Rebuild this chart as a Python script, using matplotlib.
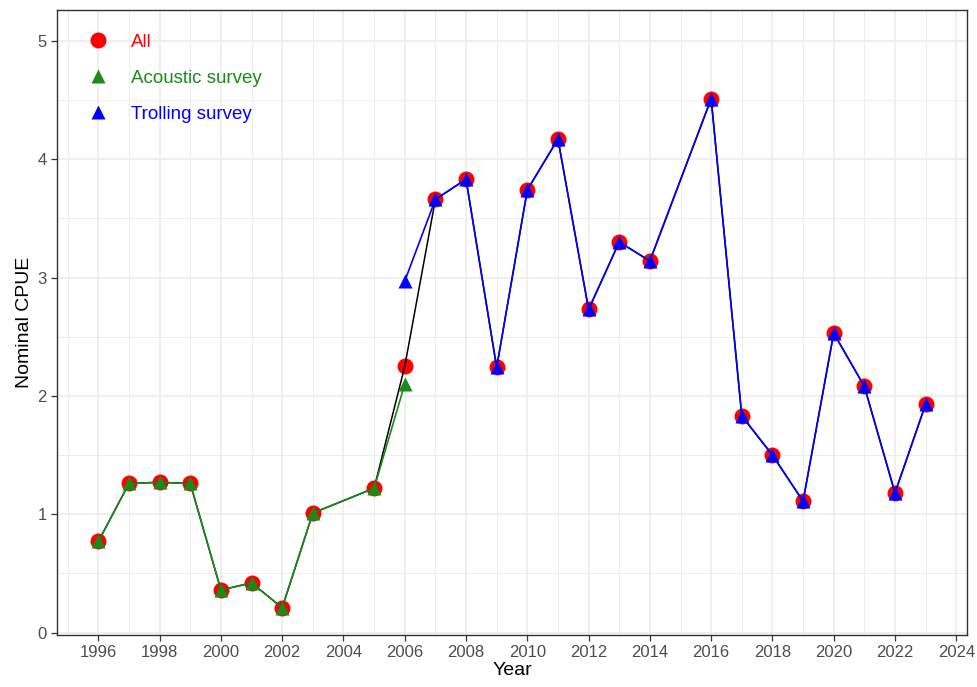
import matplotlib
matplotlib.use("Agg")
import matplotlib.pyplot as plt
from matplotlib.lines import Line2D

plt.rcParams['font.family'] = ['Liberation Sans', 'DejaVu Sans']

# Nominal CPUE by year
years_all = [1996, 1997, 1998, 1999, 2000, 2001, 2002, 2003, 2005, 2006, 2007, 2008, 2009,
             2010, 2011, 2012, 2013, 2014, 2016, 2017, 2018, 2019, 2020, 2021, 2022, 2023]
cpue_all = [0.77, 1.26, 1.27, 1.26, 0.36, 0.42, 0.21, 1.01, 1.22, 2.25, 3.66, 3.83, 2.24,
            3.74, 4.17, 2.73, 3.30, 3.14, 4.51, 1.83, 1.50, 1.11, 2.53, 2.08, 1.18, 1.93]

years_acoustic = [1996, 1997, 1998, 1999, 2000, 2001, 2002, 2003, 2005, 2006]
cpue_acoustic = [0.77, 1.26, 1.27, 1.26, 0.36, 0.42, 0.21, 1.01, 1.22, 2.10]

years_trolling = [2006, 2007, 2008, 2009, 2010, 2011, 2012, 2013, 2014, 2016,
                  2017, 2018, 2019, 2020, 2021, 2022, 2023]
cpue_trolling = [2.97, 3.66, 3.83, 2.24, 3.74, 4.17, 2.73, 3.30, 3.14, 4.51,
                 1.83, 1.50, 1.11, 2.53, 2.08, 1.18, 1.93]

x_ticks = list(range(1996, 2025, 2))
y_ticks = [0, 1, 2, 3, 4, 5]

RED = "#ff0000"
GREEN = "#1a8a1a"
BLUE = "#0000ff"

fig = plt.figure(figsize=(9.77, 6.87), dpi=100)
ax = fig.add_axes([57 / 977, 1 - 635 / 687, 910 / 977, 625 / 687])

# gridlines (major + minor)
for x in range(1995, 2025):
    ax.axvline(x, color="#ebebeb", lw=0.6 if x % 2 else 1.1, zorder=0)
for y in [i * 0.5 for i in range(0, 11)]:
    ax.axhline(y, color="#ebebeb", lw=1.1 if y == int(y) else 0.6, zorder=0)

ax.plot(years_all, cpue_all, color="black", lw=1.1, zorder=3)
ax.plot(years_all, cpue_all, "o", color=RED, ms=11.5, mec="none", zorder=2)
ax.plot(years_acoustic, cpue_acoustic, color=GREEN, lw=1.2, zorder=4)
ax.plot(years_trolling, cpue_trolling, color=BLUE, lw=1.2, zorder=4)
ax.plot(years_acoustic, cpue_acoustic, "^", color=GREEN, ms=10.5, mec="none", zorder=5)
ax.plot(years_trolling, cpue_trolling, "^", color=BLUE, ms=10.5, mec="none", zorder=5)

ax.set_xlim(1994.65, 2024.35)
ax.set_ylim(-0.02, 5.26)
ax.set_xticks(x_ticks)
ax.set_yticks(y_ticks)
ax.tick_params(axis="both", colors="#333333", labelsize=12, length=4, width=0.9,
               labelcolor="#4d4d4d")
for s in ax.spines.values():
    s.set_color("#333333")
    s.set_linewidth(1.0)
ax.set_xlabel("Year", fontsize=14, labelpad=1)
ax.set_ylabel("Nominal CPUE", fontsize=14, labelpad=3)

handles = [
    Line2D([], [], marker="o", ls="none", color=RED, ms=11.5, mec="none"),
    Line2D([], [], marker="^", ls="none", color=GREEN, ms=10.5, mec="none"),
    Line2D([], [], marker="^", ls="none", color=BLUE, ms=10.5, mec="none"),
]
leg = ax.legend(handles, ["All", "Acoustic survey", "Trolling survey"], loc="upper left",
                bbox_to_anchor=(0.012, 0.98), frameon=False, fontsize=13.5,
                handletextpad=0.75, labelspacing=1.0, borderaxespad=0.2)
for t, c in zip(leg.get_texts(), [RED, GREEN, BLUE]):
    t.set_color(c)

fig.savefig("out.png", dpi=100)
